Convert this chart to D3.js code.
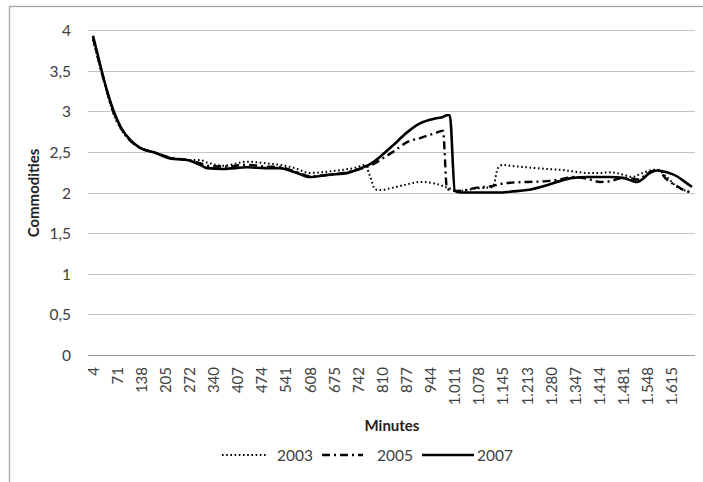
<!DOCTYPE html>
<html>
<head>
<meta charset="utf-8">
<script src="https://cdn.jsdelivr.net/npm/d3@7"></script>
<style>
    body { margin: 0; background: #fff; }
    svg text { font-family: Lato, 'Open Sans', sans-serif; fill: #404040; }
</style>
</head>
<body>
<svg class="chart" width="703" height="482"></svg>
<script>
// minutes (x) shared by the three series
var minutes = [4, 23, 40, 60, 82, 107, 135, 177, 218, 266, 302, 321, 366, 433, 483, 524, 566, 608, 663, 700,
    739, 761, 775, 789, 803, 839, 878, 914, 956, 978, 989, 997, 1011, 1025, 1072, 1117, 1131, 1145, 1164, 1212,
    1267, 1303, 1340, 1379, 1415, 1443, 1479, 1507, 1518, 1554, 1573, 1601, 1629, 1648, 1671];

var v2003 = [3.88, 3.55, 3.28, 2.98, 2.78, 2.64, 2.55, 2.49, 2.43, 2.40, 2.40, 2.37, 2.33, 2.38, 2.36, 2.34, 2.30, 2.24, 2.26, 2.28,
    2.31, 2.34, 2.20, 2.04, 2.03, 2.06, 2.10, 2.13, 2.11, 2.08, 2.06, 2.05, 2.03, 2.02, 2.05, 2.07, 2.30, 2.34, 2.33, 2.31,
    2.29, 2.28, 2.26, 2.24, 2.24, 2.25, 2.22, 2.19, 2.21, 2.27, 2.28, 2.19, 2.07, 2.03, 2.00];

var v2005 = [3.90, 3.57, 3.29, 3.00, 2.79, 2.64, 2.55, 2.49, 2.43, 2.40, 2.36, 2.33, 2.32, 2.34, 2.32, 2.31, 2.26, 2.20, 2.22, 2.24,
    2.28, 2.31, 2.33, 2.36, 2.40, 2.50, 2.62, 2.67, 2.73, 2.76, 2.05, 2.03, 2.02, 2.02, 2.06, 2.08, 2.10, 2.11, 2.12, 2.13,
    2.14, 2.16, 2.19, 2.17, 2.13, 2.14, 2.18, 2.17, 2.16, 2.25, 2.28, 2.16, 2.08, 2.03, 2.00];

var v2007 = [3.93, 3.59, 3.30, 3.02, 2.80, 2.65, 2.55, 2.49, 2.42, 2.40, 2.34, 2.30, 2.29, 2.31, 2.30, 2.30, 2.25, 2.19, 2.22, 2.23,
    2.28, 2.32, 2.35, 2.39, 2.44, 2.58, 2.74, 2.85, 2.91, 2.93, 2.95, 2.95, 2.02, 2.00, 2.00, 2.00, 2.00, 2.00, 2.01, 2.03,
    2.09, 2.14, 2.18, 2.19, 2.19, 2.19, 2.18, 2.14, 2.13, 2.24, 2.27, 2.25, 2.20, 2.14, 2.07];

var seriesNames = ['2003', '2005', '2007'];
var xTicks = [4, 71, 138, 205, 272, 340, 407, 474, 541, 608, 675, 742, 810, 877, 944,
    1011, 1078, 1145, 1213, 1280, 1347, 1414, 1481, 1548, 1615];
var yTicks = [0, 0.5, 1, 1.5, 2, 2.5, 3, 3.5, 4];

(function() {

    var p = {};
        p.plot = {left: 88, right: 695, top: 30, bottom: 355};
        p.xFirst = 93;
        p.xLast = 692;
        p.grid = '#c4c4c4';
        p.baseline = '#9a9a9a';
        p.border = '#a6a6a6';
        p.styles = [
            {dash: '1.6,2.6', width: 2},
            {dash: '8,4,2,4', width: 2.4},
            {dash: null, width: 2.6}
        ];
        p.legend = {
            y: 455,
            lineX: [222, 322, 422],
            lineW: [46, 41, 52],
            textX: [277, 377, 477]
        };

    var locale = d3.formatLocale({decimal: ',', thousands: '.', grouping: [3], currency: ['', '']});
    var fmtX = locale.format(',d');
    var fmtY = locale.format('');

    var values = [v2003, v2005, v2007];
    var svg = d3.select('.chart');

    // outer border (continues past the window)
    svg.append('rect')
        .attr('x', 9.5)
        .attr('y', 6.5)
        .attr('width', 900)
        .attr('height', 700)
        .attr('fill', 'none')
        .attr('stroke', p.border)
        .attr('stroke-width', 1.3);

    var x = d3.scaleLinear()
        .domain([minutes[0], minutes[minutes.length - 1]])
        .range([p.xFirst, p.xLast]);
    var y = d3.scaleLinear()
        .domain([0, 4])
        .range([p.plot.bottom, p.plot.top]);

    //-----  Grid + Y labels  -----//
    var yg = svg.append('g').attr('class', 'yaxis');
    yTicks.forEach(function(t) {
        var yy = Math.round(y(t)) + 0.5;
        yg.append('line')
            .attr('x1', p.plot.left).attr('x2', p.plot.right)
            .attr('y1', yy).attr('y2', yy)
            .attr('stroke', t === 0 ? p.baseline : p.grid)
            .attr('stroke-width', 1.2);
        yg.append('text')
            .attr('x', 71)
            .attr('y', yy)
            .attr('dy', '0.36em')
            .attr('text-anchor', 'end')
            .attr('font-size', 15.5)
            .text(fmtY(t));
    });

    //-----  X labels  -----//
    var xg = svg.append('g').attr('class', 'xaxis');
    xTicks.forEach(function(t) {
        xg.append('text')
            .attr('transform', 'translate(' + (x(t) + 5.5) + ',367) rotate(-90)')
            .attr('text-anchor', 'end')
            .attr('font-size', 15)
            .text(fmtX(t));
    });

    //-----  Axis titles  -----//
    svg.append('text')
        .attr('x', 392)
        .attr('y', 431)
        .attr('text-anchor', 'middle')
        .attr('font-size', 15)
        .attr('font-weight', 'bold')
        .style('fill', '#222')
        .text('Minutes');
    svg.append('text')
        .attr('transform', 'translate(39,193) rotate(-90)')
        .attr('text-anchor', 'middle')
        .attr('font-size', 15)
        .attr('font-weight', 'bold')
        .style('fill', '#222')
        .text('Commodities');

    //-----  Series  -----//
    var line = d3.line()
        .x(function(d) { return x(d[0]); })
        .y(function(d) { return y(d[1]); })
        .curve(d3.curveMonotoneX);

    values.forEach(function(vals, n) {
        var pts = minutes.map(function(m, i) { return [m, vals[i]]; });
        svg.append('path')
            .datum(pts)
            .attr('d', line)
            .attr('fill', 'none')
            .attr('stroke', '#000')
            .attr('stroke-width', p.styles[n].width)
            .attr('stroke-dasharray', p.styles[n].dash)
            .attr('stroke-linejoin', 'round');
    });

    //-----  Legend  -----//
    seriesNames.forEach(function(name, n) {
        svg.append('line')
            .attr('x1', p.legend.lineX[n])
            .attr('x2', p.legend.lineX[n] + p.legend.lineW[n])
            .attr('y1', p.legend.y).attr('y2', p.legend.y)
            .attr('stroke', '#000')
            .attr('stroke-width', p.styles[n].width)
            .attr('stroke-dasharray', p.styles[n].dash);
        svg.append('text')
            .attr('x', p.legend.textX[n])
            .attr('y', p.legend.y)
            .attr('dy', '0.36em')
            .attr('font-size', 15.5)
            .text(name);
    });
})();
</script>
</body>
</html>
